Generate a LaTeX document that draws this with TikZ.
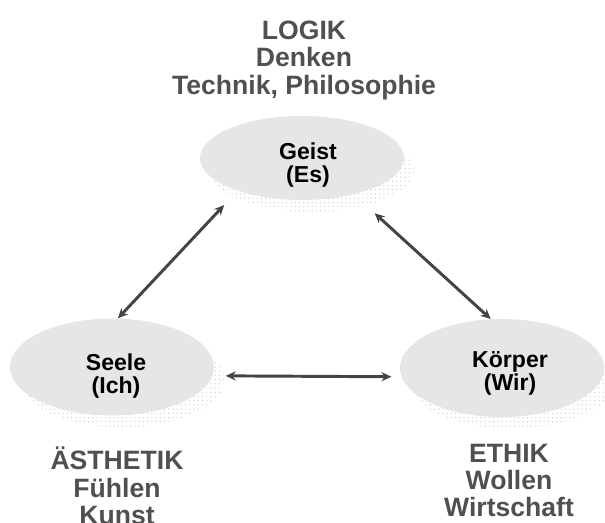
\documentclass[tikz,border=0pt]{standalone}
\usepackage{fontspec}
\setmainfont{Liberation Sans}
\usetikzlibrary{arrows.meta,shapes.geometric,shadows,patterns}
\definecolor{ellgray}{RGB}{230,230,230}
\definecolor{txtgray}{RGB}{80,80,80}
\definecolor{arrgray}{RGB}{68,68,68}
\tikzset{
  sphere/.style={ellipse, fill=ellgray, inner sep=0pt, minimum width=5.1cm,
    general shadow={shadow xshift=7pt, shadow yshift=-8.5pt, pattern=dots, pattern color=gray!40}},
  midtext/.style={align=center, inner sep=0pt, font=\fontsize{16.4}{16.4}\selectfont\bfseries},
  sidetext/.style={align=center, inner sep=0pt, text=txtgray, font=\fontsize{18.9}{19.3}\selectfont\bfseries},
  twoway/.style={arrgray, line width=2.1pt, {Stealth[length=7pt,width=6.5pt]}-{Stealth[length=7pt,width=6.5pt]}}
}

\begin{document}
\begin{tikzpicture}[x=0.025cm,y=-0.025cm]
\useasboundingbox (0,0) rectangle (605,523);
%%Ellipses
\node (geist) [sphere, minimum height=2.1cm] at (302,158) {};
\node (seele) [sphere, minimum height=2.425cm] at (112,367) {};
\node (koerper) [sphere, minimum height=2.45cm] at (502,368) {};
%%Names
\node (geisttxt) [midtext] at (308,165) {Geist\\(Es)};
\node (seeletxt) [midtext] at (116,376) {Seele\\(Ich)};
\node (koerpertxt) [midtext] at (510,373) {Körper\\(Wir)};
%%Arrows
\draw [twoway, shorten >=0.49cm] (seele.83) -- (geist.207.3);
\draw [twoway, shorten <=0.7cm] (geist.325.4) -- (koerper.103.5);
\draw [twoway, shorten <=0.33cm, shorten >=0.25cm] (seele.-5.7) -- (koerper.185.1);
%%Labels
\node (logik) [sidetext, anchor=north] at (304,21) {LOGIK\\Denken\\Technik, Philosophie};
\node (aesthetik) [sidetext, anchor=north] at (117,447) {ÄSTHETIK\\Fühlen\\Kunst};
\node (ethik) [sidetext, anchor=north] at (509,444) {ETHIK\\Wollen\\Wirtschaft};
\end{tikzpicture}
\end{document}
